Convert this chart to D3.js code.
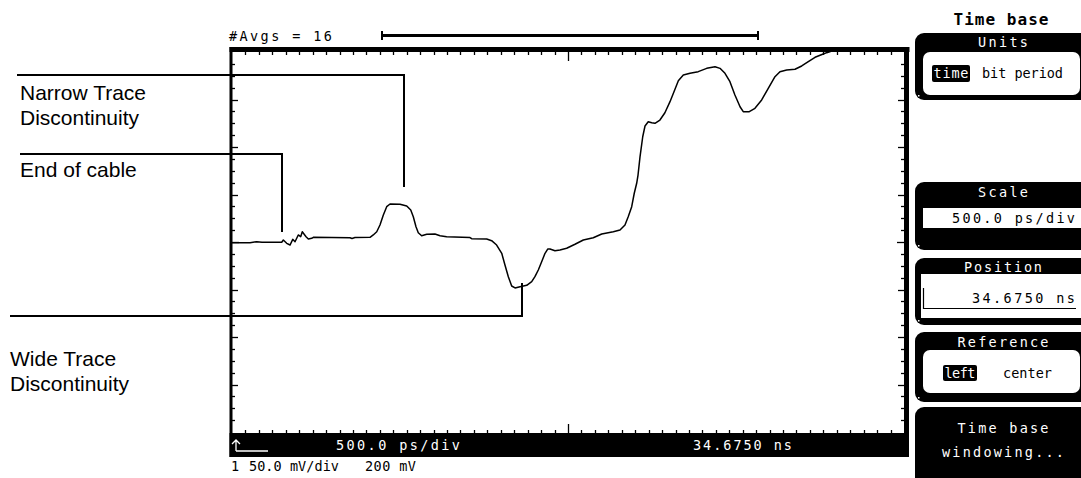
<!DOCTYPE html>
<html><head><meta charset="utf-8">
<script src="https://cdn.jsdelivr.net/npm/d3@7"></script>
<style>
html,body{margin:0;padding:0;background:#fff;}
svg{display:block;}
.mono{font-family:"DejaVu Sans Mono",monospace;}
.ann{font-family:"Liberation Sans",Arial,sans-serif;font-size:21px;}
</style></head>
<body>
<svg id="chart" width="1081" height="478"></svg>
<script>
// ---- data (time offset in ps from 34.6750 ns, voltage in mV) ----
const timePs = [0,134,184,223,370,382,407,432,452,469,493,511,523,551,568,593,605,878,893,915,1027,1051,1077,1101,1126,1151,1176,1250,1300,1330,1349,1369,1386,1411,1449,1510,1548,1597,1771,1783,1895,1932,1969,2007,2031,2056,2081,2106,2143,2193,2230,2254,2279,2304,2329,2349,2366,2403,2440,2490,2552,2614,2688,2751,2837,2887,2924,2948,2974,2993,3011,3021,3036,3056,3073,3097,3123,3147,3184,3221,3259,3296,3321,3358,3408,3469,3532,3594,3631,3668,3705,3742,3780,3804,3849,3891,3941,3990,4040,4077,4127,4189,4239,4288,4338,4399,4425,4486];
const voltMv = [199.3,199.3,200.3,199.7,199.7,202.1,198.6,196.8,202.8,200.3,207.4,205.6,210.8,205.6,203.2,203.9,204.9,204.5,203.7,204.7,204.9,207.4,210.8,217.9,228.4,237.2,240,239.7,237.9,233.7,226.6,216.1,209.8,206.6,208.1,208.4,206.6,205.6,204.7,203.5,203.2,201.4,196.8,188.1,175.8,163.5,153.7,151.6,152.9,154.4,158.2,163.5,170.5,179.3,188.1,192.6,192.6,190.8,191.6,193.4,197.6,202.1,204.5,208.4,210.8,212.6,217.9,226.6,237.2,251.3,261.8,270.5,289.8,310.8,322.1,326.6,325.6,324.9,328.4,336.1,347.7,360.7,369.8,375.8,377.6,379.3,382.8,384.5,382.8,377.6,368.7,354.7,342.4,337.2,337.2,340.7,349.5,361.8,374,379.3,381.1,381.8,385.3,389.8,394.4,397.9,399.3,402];

const timeDomain = [0, 5000];      // 500 ps/div x 10 div
const voltDomain = [0, 400];       // 50 mV/div x 8 div, centre 200 mV
const xTickStep = 100, xMajorStep = 500;
const yTickStep = 12.5, yMajorStep = 50;

const topLabel = "#Avgs = 16";
const barLeftLabel = "500.0 ps/div";
const barRightLabel = "34.6750 ns";
const chanLabels = ["1", "50.0 mV/div", "200 mV"];
const annotations = [
  {lines:["Narrow Trace","Discontinuity"], t:1280},
  {lines:["End of cable"], t:372},
  {lines:["Wide Trace","Discontinuity"], t:2158}
];

const svg = d3.select("#chart");
const L = 232, R = 904, T = 52, B = 432;
const x = d3.scaleLinear().domain(timeDomain).range([L, R]);
const y = d3.scaleLinear().domain(voltDomain).range([B, T]);

// frame
svg.append("rect").attr("x",229.5).attr("y",47).attr("width",680).attr("height",5).attr("fill","#000");
svg.append("rect").attr("x",229.5).attr("y",47).attr("width",3).attr("height",410).attr("fill","#000");
svg.append("rect").attr("x",904).attr("y",47).attr("width",5).attr("height",410).attr("fill","#000");
svg.append("rect").attr("x",229.5).attr("y",433).attr("width",679.5).attr("height",24).attr("fill","#000");

// ticks
const xt = d3.range(timeDomain[0], timeDomain[1]+1, xTickStep);
const yt = d3.range(voltDomain[0], voltDomain[1]+0.01, yTickStep);
const mid = (timeDomain[0]+timeDomain[1])/2, vmid=(voltDomain[0]+voltDomain[1])/2;
const xLen = t => t===mid ? 9 : 3;
const yLen = v => v===vmid ? 7 : (v % yMajorStep===0 ? 6 : 3);
const tg = svg.append("g").attr("stroke","#000").attr("stroke-width",1.3);
xt.slice(1,-1).forEach(t=>{
  const px = Math.round(x(t))+0.5;
  tg.append("line").attr("x1",px).attr("x2",px).attr("y1",T).attr("y2",T+xLen(t));
  tg.append("line").attr("x1",px).attr("x2",px).attr("y1",B+1).attr("y2",B+1-xLen(t));
});
yt.slice(1,-1).forEach(v=>{
  const py = Math.round(y(v))+0.5;
  tg.append("line").attr("x1",L).attr("x2",L+yLen(v)).attr("y1",py).attr("y2",py);
  tg.append("line").attr("x1",R).attr("x2",R-yLen(v)).attr("y1",py).attr("y2",py);
});

// trace
svg.append("clipPath").attr("id","clip").append("rect").attr("x",L).attr("y",T).attr("width",R-L).attr("height",B-T);
const pts = timePs.map((t,i)=>[t, voltMv[i]]);
svg.append("path").datum(pts).attr("clip-path","url(#clip)")
  .attr("fill","none").attr("stroke","#000").attr("stroke-width",1.5).attr("stroke-linejoin","round")
  .attr("d", d3.line().x(d=>x(d[0])).y(d=>y(d[1])));

// top label & bar
svg.append("text").attr("class","mono").attr("x",229).attr("y",41).attr("font-size",13.5).attr("textLength",103).text(topLabel);
svg.append("rect").attr("x",381).attr("y",34).attr("width",378).attr("height",3).attr("fill","#000");
svg.append("rect").attr("x",381).attr("y",31).attr("width",2).attr("height",9).attr("fill","#000");
svg.append("rect").attr("x",757).attr("y",31).attr("width",2).attr("height",9).attr("fill","#000");

// bottom bar
svg.append("path").attr("d","M236,451 L268,451 M236,451 L236,440 M232,444 L236,440 L240,444").attr("stroke","#fff").attr("stroke-width",1.3).attr("fill","none");
svg.append("text").attr("class","mono").attr("x",336).attr("y",450).attr("fill","#fff").attr("font-size",13.5).attr("textLength",124).text(barLeftLabel);
svg.append("text").attr("class","mono").attr("x",693).attr("y",450).attr("fill","#fff").attr("font-size",13.5).attr("textLength",99).text(barRightLabel);
svg.append("text").attr("class","mono").attr("x",231).attr("y",471).attr("font-size",13.5).text(chanLabels[0]);
svg.append("text").attr("class","mono").attr("x",249).attr("y",471).attr("font-size",13.5).attr("textLength",90).text(chanLabels[1]);
svg.append("text").attr("class","mono").attr("x",365).attr("y",471).attr("font-size",13.5).attr("textLength",51).text(chanLabels[2]);

// annotations
const annGeom = [
  {hx1:17, hy:75, tx:20, ty:[100,125], yEnd:187},
  {hx1:20, hy:154, tx:20, ty:[177], yEnd:232},
  {hx1:10, hy:316, tx:10, ty:[366,391], yEnd:283}
];
annotations.forEach((a,i)=>{
  const g = annGeom[i];
  const vx = Math.round(x(a.t));
  svg.append("path").attr("d",`M${g.hx1},${g.hy} H${vx} V${g.yEnd}`).attr("fill","none").attr("stroke","#000").attr("stroke-width",2);
  a.lines.forEach((s,j)=>svg.append("text").attr("class","ann").attr("x",g.tx).attr("y",g.ty[j]).text(s));
});

// right menu panel
const P = svg.append("g");
P.append("text").attr("class","mono").attr("x",1001).attr("y",25).attr("text-anchor","middle").attr("font-size",16).attr("font-weight","bold").attr("textLength",95).text("Time base");
function box(y0,y1){ P.append("rect").attr("x",915).attr("y",y0).attr("width",180).attr("height",y1-y0).attr("rx",9).attr("fill","#000");
  P.append("rect").attr("x",918).attr("y",y1-5).attr("width",1.5).attr("height",1.5).attr("fill","#fff"); }
function hdr(s,yb,len){ P.append("text").attr("class","mono").attr("x",1003).attr("y",yb).attr("text-anchor","middle").attr("fill","#fff").attr("font-size",13.5).attr("textLength",len).text(s); }
function t(s,xx,yb,opts={}){ const e=P.append("text").attr("class","mono").attr("x",xx).attr("y",yb).attr("font-size",13.5).attr("fill",opts.fill||"#000").attr("text-anchor",opts.anchor||"start"); if(opts.len) e.attr("textLength",opts.len); e.text(s); return e;}
// Units
box(33,100); hdr("Units",47,50);
P.append("rect").attr("x",923).attr("y",52).attr("width",157).attr("height",43).attr("rx",7).attr("fill","#fff");
P.append("rect").attr("x",932).attr("y",65).attr("width",38).attr("height",17).attr("rx",2).attr("fill","#000");
t("time",933.5,78,{fill:"#fff",len:35}); t("bit period",982,78,{len:81});
// Scale
box(182,250); hdr("Scale",197,50);
P.append("rect").attr("x",923).attr("y",208).attr("width",160).attr("height",20).attr("fill","#fff");
t("500.0 ps/div",1075,223,{anchor:"end",len:123});
// Position
box(258,325); hdr("Position",272,78);
P.append("rect").attr("x",921).attr("y",274).attr("width",160).attr("height",44).attr("fill","#fff");
P.append("path").attr("d","M923.5,288 V308.5 H1076").attr("stroke","#000").attr("stroke-width",1.2).attr("fill","none");
t("34.6750 ns",1075,303,{anchor:"end",len:103});
// Reference
box(332,402); hdr("Reference",347,91);
P.append("rect").attr("x",923).attr("y",350).attr("width",157).attr("height",43).attr("rx",7).attr("fill","#fff");
P.append("rect").attr("x",943).attr("y",365).attr("width",34).attr("height",16).attr("rx",2).attr("fill","#000");
t("left",944.5,378,{fill:"#fff",len:31}); t("center",1003,378,{len:49});
// Time base windowing
box(407,495); hdr("Time base",433,91); hdr("windowing...",457,122);
</script>
</body></html>
